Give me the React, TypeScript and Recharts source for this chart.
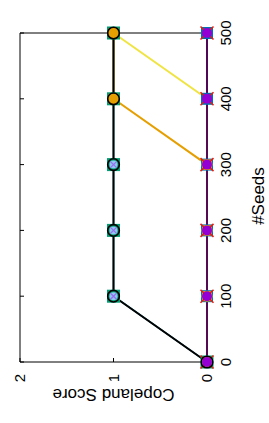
import React from "react";
import { LineChart, Line, XAxis, YAxis, Label, ReferenceLine } from "recharts";

// gnuplot-style figure, drawn upright and then turned a quarter turn
const seeds = [0, 100, 200, 300, 400, 500];
const seedTicks = [0, 100, 200, 300, 400, 500];
const scoreTicks = [0, 1, 2];

const blueScores = [0, 0, 0, 0, 0, 0];
const greenScores = [0, 1, 1, 1, 1, 1];
const lightBlueScores = [0, 1, 1, 1, 1, 1];
const orangeScores = [0, 0, 0, 0, 1, 1];
const yellowScores = [0, 0, 0, 0, 0, 1];
const redScores = [0, 0, 0, 0, 0, 0];
const blackScores = [0, 1, 1, 1, 1, 1];
const purpleScores = [0, 0, 0, 0, 0, 0];

const data = seeds.map((s, i) => ({
  seeds: s,
  blue: blueScores[i],
  green: greenScores[i],
  lightBlue: lightBlueScores[i],
  orange: orangeScores[i],
  yellow: yellowScores[i],
  red: redScores[i],
  black: blackScores[i],
  purple: purpleScores[i],
}));

const W = 423;
const H = 269;
const PLOT = { left: 61, top: 20, right: 390, bottom: 207 };
const FONT = "'Liberation Sans', Arial, sans-serif";

const square = (color: string, half: number) => (p: any) => (
  <rect key={`sq-${color}-${p.index}`} x={p.cx - half} y={p.cy - half} width={half * 2} height={half * 2} fill={color} />
);

const orangeDot = (p: any) => (
  <g key={`or-${p.index}`}>
    <rect x={p.cx - 5} y={p.cy - 5} width={10} height={10} fill="#e69f00" />
    <circle cx={p.cx} cy={p.cy} r={5.5} fill="#e69f00" />
  </g>
);

const lightBlueDot = (p: any) => (
  <g key={`lb-${p.index}`}>
    <circle cx={p.cx} cy={p.cy} r={4} fill="#8fc9f0" />
    <path d={`M${p.cx - 3},${p.cy - 3}L${p.cx + 3},${p.cy + 3}M${p.cx - 3},${p.cy + 3}L${p.cx + 3},${p.cy - 3}`} stroke="#9b6cf0" strokeWidth={1.3} />
  </g>
);

const redCross = (p: any) => (
  <path
    key={`rx-${p.index}`}
    d={`M${p.cx - 6.5},${p.cy - 6.5}L${p.cx + 6.5},${p.cy + 6.5}M${p.cx - 6.5},${p.cy + 6.5}L${p.cx + 6.5},${p.cy - 6.5}`}
    stroke="#e51e10"
    strokeWidth={1.5}
  />
);

const blackCircle = (p: any) => (
  <circle key={`bc-${p.index}`} cx={p.cx} cy={p.cy} r={5.8} fill="none" stroke="#000" strokeWidth={1.6} />
);

const purpleDot = (p: any) => (
  <circle key={`pd-${p.index}`} cx={p.cx} cy={p.cy} r={5} fill="#9400d3" />
);

const labelStyle = { fontSize: 17, fill: "#000", fontFamily: FONT };

const seedsTitle = () => (
  <text x={(PLOT.left + PLOT.right) / 2 + 1.5} y={PLOT.bottom + 51} textAnchor="middle" dominantBaseline="central" style={labelStyle}>
    #Seeds
  </text>
);

const scoreTitle = () => {
  const cx = 29;
  const cy = (PLOT.top + PLOT.bottom) / 2;
  return (
    <text x={cx} y={cy} textAnchor="middle" dominantBaseline="central" transform={`rotate(-90 ${cx} ${cy})`} style={labelStyle}>
      Copeland Score
    </text>
  );
};

export default function App() {
  const tickStyle = { fontSize: 15, fill: "#000", fontFamily: FONT };
  return (
    <div style={{ position: "absolute", left: 0, top: 0, width: 269, height: 423, overflow: "hidden", background: "#fff" }}>
      <div style={{ width: W, height: H, transformOrigin: "0 0", transform: `translateY(${W}px) rotate(-90deg)` }}>
        <LineChart width={W} height={H} data={data} margin={{ top: PLOT.top - 1, right: W - PLOT.right - 1, left: 0, bottom: 0 }}>
          <XAxis
            xAxisId="b"
            dataKey="seeds"
            type="number"
            domain={[0, 500]}
            ticks={seedTicks}
            interval={0}
            height={H - PLOT.bottom}
            tickSize={-4}
            tickMargin={17}
            stroke="#000"
            tick={tickStyle}
          >
            <Label content={seedsTitle} />
          </XAxis>
          <XAxis
            xAxisId="t"
            orientation="top"
            dataKey="seeds"
            type="number"
            domain={[0, 500]}
            ticks={seedTicks}
            interval={0}
            height={1}
            tickSize={-4}
            tickFormatter={() => ""}
            axisLine={false}
            stroke="#000"
          />
          <YAxis
            yAxisId="l"
            type="number"
            domain={[0, 2]}
            ticks={scoreTicks}
            interval={0}
            width={PLOT.left}
            tickSize={-4}
            tickMargin={16}
            stroke="#000"
            tick={tickStyle}
          >
            <Label content={scoreTitle} />
          </YAxis>
          <YAxis
            yAxisId="r"
            orientation="right"
            type="number"
            domain={[0, 2]}
            ticks={scoreTicks}
            interval={0}
            width={1}
            tickSize={-4}
            tickFormatter={() => ""}
            axisLine={false}
            stroke="#000"
          />
          <ReferenceLine xAxisId="b" yAxisId="l" y={2} stroke="#000" strokeWidth={1} />
          <ReferenceLine xAxisId="b" yAxisId="l" x={500} stroke="#000" strokeWidth={1} />
          <Line xAxisId="b" yAxisId="l" dataKey="blue" stroke="#0072b2" strokeWidth={1.5} dot={square("#0072b2", 6)} activeDot={false} isAnimationActive={false} />
          <Line xAxisId="b" yAxisId="l" dataKey="green" stroke="#009e73" strokeWidth={1.5} dot={square("#009e73", 6.5)} activeDot={false} isAnimationActive={false} />
          <Line xAxisId="b" yAxisId="l" dataKey="lightBlue" stroke="#56b4e9" strokeWidth={1.5} dot={lightBlueDot} activeDot={false} isAnimationActive={false} />
          <Line xAxisId="b" yAxisId="l" dataKey="orange" stroke="#e69f00" strokeWidth={2} dot={orangeDot} activeDot={false} isAnimationActive={false} />
          <Line xAxisId="b" yAxisId="l" dataKey="yellow" stroke="#f0e442" strokeWidth={2} dot={false} activeDot={false} isAnimationActive={false} />
          <Line xAxisId="b" yAxisId="l" dataKey="red" stroke="#e51e10" strokeWidth={1.5} dot={redCross} activeDot={false} isAnimationActive={false} />
          <Line xAxisId="b" yAxisId="l" dataKey="black" stroke="#000" strokeWidth={2} dot={blackCircle} activeDot={false} isAnimationActive={false} />
          <Line xAxisId="b" yAxisId="l" dataKey="purple" stroke="#9400d3" strokeWidth={1.5} dot={purpleDot} activeDot={false} isAnimationActive={false} />
        </LineChart>
      </div>
    </div>
  );
}
